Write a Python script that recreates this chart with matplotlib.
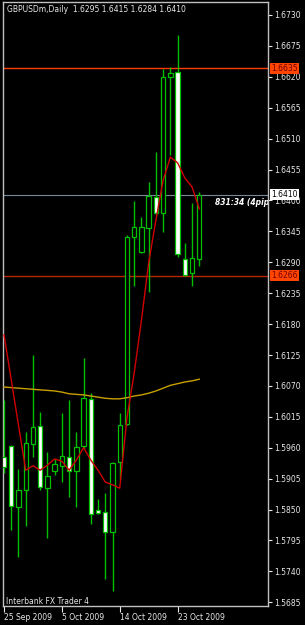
import matplotlib
matplotlib.use("Agg")
import matplotlib.pyplot as plt
import numpy as np

# GBPUSDm daily bars, 25 Sep 2009 .. 27 Oct 2009 (broker has Sunday bars)
opens = [1.5944, 1.5963, 1.5855, 1.5885, 1.5967, 1.5999, 1.5888, 1.5919,
         1.5928, 1.5944, 1.5919, 1.5963, 1.6047, 1.5849, 1.5846, 1.5810,
         1.5935, 1.6002, 1.6335, 1.6308, 1.6351, 1.6406, 1.6378, 1.6620,
         1.6629, 1.6296, 1.6271, 1.6295]
highs = [1.6045, 1.5965, 1.5922, 1.5988, 1.6125, 1.6024, 1.5952, 1.5940,
         1.6022, 1.6045, 1.5988, 1.6120, 1.6057, 1.5869, 1.5880, 1.5935,
         1.6022, 1.6339, 1.6399, 1.6371, 1.6433, 1.6486, 1.6634, 1.6637,
         1.6694, 1.6324, 1.6395, 1.6415]
lows = [1.5915, 1.5814, 1.5766, 1.5821, 1.5944, 1.5885, 1.5799, 1.5911,
        1.5899, 1.5872, 1.5855, 1.5958, 1.5824, 1.5842, 1.5726, 1.5705,
        1.5903, 1.6000, 1.6248, 1.6307, 1.6237, 1.6374, 1.6344, 1.6481,
        1.6299, 1.6266, 1.6248, 1.6284]
closes = [1.5926, 1.5856, 1.5885, 1.5968, 1.5997, 1.5890, 1.5910, 1.5931,
          1.5945, 1.5919, 1.5961, 1.6049, 1.5842, 1.5844, 1.5810, 1.5933,
          1.6000, 1.6335, 1.6353, 1.6353, 1.6408, 1.6378, 1.6620, 1.6627,
          1.6305, 1.6267, 1.6298, 1.6410]

# red fast moving average and gold slow moving average
ma_fast = [1.6161, 1.6081, 1.6000, 1.5920, 1.5928, 1.5920, 1.5929, 1.5940,
           1.5936, 1.5920, 1.5938, 1.5960, 1.5938, 1.5920, 1.5899, 1.5894,
           1.5888, 1.6013, 1.6093, 1.6187, 1.6289, 1.6365, 1.6436, 1.6477,
           1.6467, 1.6440, 1.6424, 1.6385]
ma_slow = [1.6068, 1.6067, 1.6066, 1.6065, 1.6064, 1.6063, 1.6062, 1.6061,
           1.6059, 1.6056, 1.6055, 1.6054, 1.6052, 1.6050, 1.6048, 1.6047,
           1.6047, 1.6049, 1.6052, 1.6054, 1.6057, 1.6061, 1.6066, 1.6071,
           1.6074, 1.6077, 1.6079, 1.6082]

date_pos = [0, 8, 16, 24]
date_labels = ["25 Sep 2009", "5 Oct 2009", "14 Oct 2009", "23 Oct 2009"]

ytick_vals = [1.5685 + 0.0055 * k for k in range(20)]

resist = 1.6635
support = 1.6266
bid = 1.6410

GREEN = "#00c000"
FG = "#e8e8e8"

plt.rcParams['font.family'] = ['DejaVu Sans']

fig = plt.figure(figsize=(3.05, 6.25), dpi=100, facecolor="black")
W, H = 305.0, 625.0
ax = fig.add_axes([2.5 / W, 1 - 606 / H, (268 - 2.5) / W, (606 - 2) / H])
ax.set_facecolor("black")

x = np.arange(len(opens))
o = np.array(opens)
c = np.array(closes)

# wicks
ax.vlines(x, lows, highs, color=GREEN, lw=1.0, zorder=3)
# bodies: white = bearish, black = bullish
face = ["white" if cc < oo else "black" for oo, cc in zip(o, c)]
hgt = np.maximum(np.abs(c - o), 0.00015)
ax.bar(x, hgt, bottom=np.minimum(o, c), width=0.6, color=face,
       edgecolor=GREEN, linewidth=0.9, zorder=4)

ax.plot(x, ma_slow, color="#c8a000", lw=1.0, zorder=5)
ax.plot(x, ma_fast, color="#d00000", lw=1.0, zorder=5)

ax.axhline(resist, color="#ff3c00", lw=1.0, zorder=2)
ax.axhline(support, color="#b42800", lw=1.0, zorder=2)
ax.axhline(bid, color="#778899", lw=0.8, zorder=2)

ax.text(29.2, 1.6397, "831:34 (4pips)", color="white", fontsize=5.5,
        style="italic", weight="bold", va="center", ha="left", zorder=6,
        clip_on=True)

ax.set_xlim(-0.21, 36.5)
ax.set_ylim(1.56784, 1.67531)

for s in ax.spines.values():
    s.set_color("#c0c0c0")
    s.set_linewidth(1.0)

ax.yaxis.tick_right()
ax.set_yticks(ytick_vals)
ax.set_yticklabels([f"{v:.4f}" for v in ytick_vals])
ax.tick_params(axis="y", colors=FG, labelsize=5.5, length=3, pad=1.5,
               direction="out", labelcolor=FG)

ax.set_xticks(date_pos)
ax.set_xticklabels(date_labels)
ax.tick_params(axis="x", colors=FG, labelsize=5.5, length=4, pad=1,
               direction="out", labelcolor=FG)
for lab in ax.get_xticklabels():
    lab.set_ha("left")

# price labels on the axis
for val, bg, fc in [(resist, "#ff4500", "#700000"),
                    (support, "#ff4500", "#700000"),
                    (bid, "white", "black")]:
    ax.annotate(f"{val:.4f}", xy=(1.0, val), xycoords=("axes fraction", "data"),
                xytext=(2.5, 0), textcoords="offset points", fontsize=5.5,
                color=fc, va="center", ha="left", zorder=10, annotation_clip=False,
                bbox=dict(boxstyle="square,pad=0.15", fc=bg, ec="none"))

fig.text(7 / W, 1 - 10 / H, "GBPUSDm,Daily  1.6295 1.6415 1.6284 1.6410",
         color=FG, fontsize=5.5, va="center", ha="left")
fig.text(6 / W, 1 - 602 / H, "Interbank FX Trader 4",
         color=FG, fontsize=5.5, va="center", ha="left")

fig.savefig("out.png", dpi=100, facecolor="black")
plt.close(fig)
